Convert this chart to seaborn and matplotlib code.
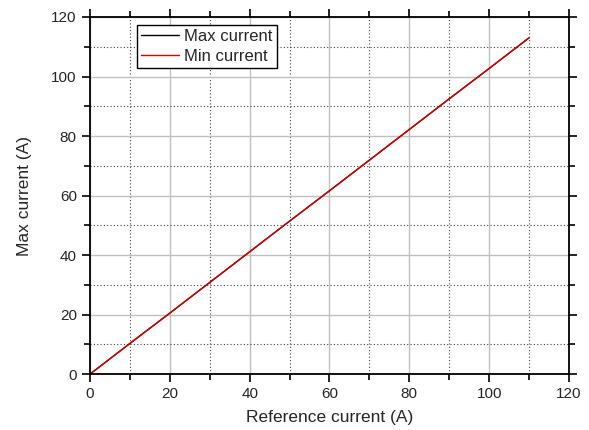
import matplotlib
matplotlib.use("Agg")
import matplotlib.pyplot as plt
from matplotlib.ticker import MultipleLocator
import seaborn as sns
import pandas as pd

# values
ref_current = [0, 10, 20, 30, 40, 50, 60, 70, 80, 90, 100, 110]
max_current = [0, 10.3, 20.5, 30.8, 41.1, 51.4, 61.6, 71.9, 82.2, 92.5, 102.7, 113.0]
min_current = [0, 10.3, 20.5, 30.8, 41.1, 51.4, 61.6, 71.9, 82.2, 92.5, 102.7, 113.0]

df = pd.DataFrame({"ref": ref_current, "max": max_current, "min": min_current})

sns.set_style("white")
plt.rcParams['font.family'] = ['Liberation Sans', 'DejaVu Sans']

fig = plt.figure(figsize=(5.89, 4.30), dpi=100)
ax = fig.add_axes([0.1528, 0.130, 0.8132, 0.8305])

sns.lineplot(data=df, x="ref", y="max", ax=ax, color="black", linewidth=1, label="Max current")
sns.lineplot(data=df, x="ref", y="min", ax=ax, color="#dd0000", linewidth=1, label="Min current")

ax.set_xlim(0, 120)
ax.set_ylim(0, 120)
ax.xaxis.set_major_locator(MultipleLocator(20))
ax.xaxis.set_minor_locator(MultipleLocator(10))
ax.yaxis.set_major_locator(MultipleLocator(20))
ax.yaxis.set_minor_locator(MultipleLocator(10))

ax.grid(which="major", color="#c0c0c0", linestyle="-", linewidth=1)
ax.grid(which="minor", color="#444444", linestyle=(0, (1, 2)), linewidth=0.8)
ax.set_axisbelow(True)

for s in ax.spines.values():
    s.set_visible(True)
    s.set_color("black")
    s.set_linewidth(1.3)

ax.tick_params(which="both", direction="out", top=True, right=True,
               bottom=True, left=True, width=1.2, color="black",
               labelsize=11, labeltop=False, labelright=False)
ax.tick_params(which="major", length=6)
ax.tick_params(which="minor", length=4)

ax.set_xlabel("Reference current (A)", fontsize=12.5, labelpad=6)
ax.set_ylabel("Max current (A)", fontsize=12.5, labelpad=14)

leg = ax.legend(loc="upper left", bbox_to_anchor=(0.098, 0.978), fontsize=12,
                frameon=True, fancybox=False, edgecolor="black",
                handlelength=2.3, handletextpad=0.3, borderpad=0.25,
                labelspacing=0.3, borderaxespad=0)
leg.get_frame().set_linewidth(1.0)
leg.get_frame().set_alpha(1)

fig.savefig("out.png", dpi=100)
